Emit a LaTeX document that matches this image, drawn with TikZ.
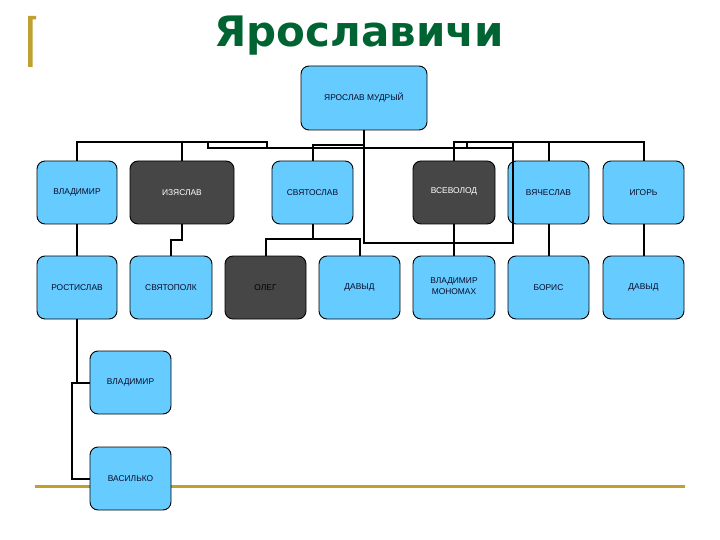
\documentclass[tikz,border=0pt]{standalone}
\usepackage{fontspec}
\newfontfamily\boxfont{Liberation Sans}
\newfontfamily\titlefont{DejaVu Sans}
\definecolor{boxblue}{RGB}{102,204,255}
\definecolor{boxdark}{RGB}{70,70,70}
\definecolor{gold}{RGB}{192,160,48}
\definecolor{titlegreen}{RGB}{0,100,50}
\definecolor{boxtext}{RGB}{10,10,40}
\tikzset{
  famlybox/.style={draw=black, line width=0.9pt, rounded corners=8pt, fill=boxblue,
    minimum width=81pt, minimum height=63pt, inner sep=0pt, align=center,
    text=boxtext, font=\boxfont\fontsize{8.4}{9.6}\selectfont},
  darkbox/.style={famlybox, fill=boxdark, text=white},
  conn/.style={draw=black, line width=2pt},
  thickconn/.style={draw=black, line width=2.8pt}
}
\begin{document}
\begin{tikzpicture}[x=1pt,y=-1pt]
\useasboundingbox (0,0) rectangle (720,540);
% decorations
\fill[gold] (28,16) -- (36,16) -- (36,19.5) -- (32.5,19.5) -- (32.5,67) -- (28,67) -- cycle;
\draw[gold, line width=3pt] (35,486) -- (685,486);
\node[anchor=base, text=titlegreen, font=\titlefont\bfseries\fontsize{42}{48}\selectfont] (title) at (359,47) {Ярославичи};
% boxes
\node[famlybox, minimum width=126pt, minimum height=64pt] (yar) at (364,98) {\raisebox{3pt}{ЯРОСЛАВ МУДРЫЙ}};
\node[famlybox, minimum width=80pt] (vlad1) at (77,192.5) {ВЛАДИМИР};
\node[darkbox, minimum width=104pt] (izya) at (182,192.5) {ИЗЯСЛАВ};
\node[famlybox] (svyat) at (312.5,192.5) {СВЯТОСЛАВ};
\node[darkbox, minimum width=82pt] (vsev) at (454,192.5) {\raisebox{4pt}{ВСЕВОЛОД}};
\node[famlybox] (vyach) at (548.5,192.5) {ВЯЧЕСЛАВ};
\node[famlybox] (igor) at (643.5,192.5) {ИГОРЬ};
\node[famlybox, minimum width=80pt] (rost) at (77,287.5) {РОСТИСЛАВ};
\node[famlybox, minimum width=82pt] (svpolk) at (171,287.5) {СВЯТОПОЛК};
\node[darkbox, text=black] (oleg) at (265.5,287.5) {ОЛЕГ};
\node[famlybox] (davyd1) at (359.5,287.5) {ДАВЫД};
\node[famlybox, minimum width=82pt] (mono) at (454,287.5) {\raisebox{3pt}{\shortstack{ВЛАДИМИР\\МОНОМАХ}}};
\node[famlybox] (boris) at (548.5,287.5) {БОРИС};
\node[famlybox] (davyd2) at (643.5,287.5) {ДАВЫД};
\node[famlybox] (vlad2) at (130.5,382.5) {ВЛАДИМИР};
\node[famlybox] (vasilko) at (130.5,478.5) {ВАСИЛЬКО};
% junction coordinates
\coordinate (jL) at (267,142);
\coordinate (jLb) at (267,148);
\coordinate (jM) at (208,142);
\coordinate (jMb) at (208,148);
\coordinate (jR) at (513,148);
\coordinate (jRt) at (513,142);
\coordinate (jRb) at (513,243);
\coordinate (trunkb) at (364,243);
\coordinate (jS) at (364,145);
\coordinate (stubt) at (467,142);
\coordinate (stubb) at (467,148);
% connectors, top level
\draw[conn] (vlad1.north) |- (jL) -- (jLb);
\draw[conn] (jM) -- (jMb) -- (jR);
\draw[conn] (izya.north) -- (izya.north |- 0,142);
\draw[conn] (yar.south) -- (trunkb) -- (jRb) -- (jRt);
\draw[conn] (svyat.north) |- (jS);
\draw[conn] (vsev.north) |- (igor.north |- 0,142) -- (igor.north);
\draw[conn] (vyach.north) -- (vyach.north |- 0,142);
\draw[conn] (stubt) -- (stubb);
% second level
\draw[conn] (vlad1.south) -- (rost.north);
\draw[conn] (izya.south) -- (izya.south |- 0,240) -| (svpolk.north);
\draw[conn] (svyat.south) -- (svyat.south |- 0,239);
\draw[conn] (oleg.north) |- (davyd1.north |- 0,239) -- (davyd1.north);
\draw[thickconn] (vsev.south) -- (mono.north);
\draw[conn] (vyach.south) -- (boris.north);
\draw[conn] (igor.south) -- (davyd2.north);
% third level
\draw[conn] (rost.south) |- (vlad2.west);
\draw[conn] (vlad2.west) -- (vlad2.west -| 72,0) |- (vasilko.west);
\end{tikzpicture}
\end{document}
